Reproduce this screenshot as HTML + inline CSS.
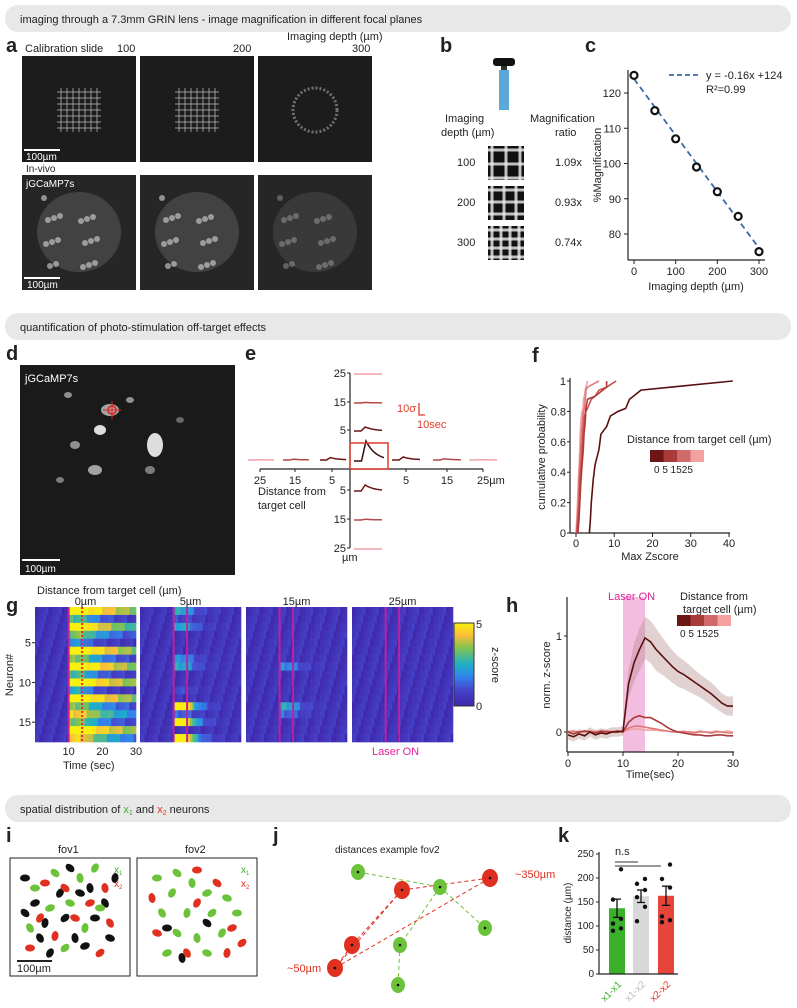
<!DOCTYPE html>
<html><head><meta charset="utf-8">
<style>
html,body{margin:0;padding:0;background:#fff;}
svg{display:block;font-family:"Liberation Sans",Arial,sans-serif;fill:#222;}
.lbl{font-weight:bold;font-size:20px;}
.t{font-size:11px;}
.s{font-size:10px;}
</style></head>
<body>
<svg id="root" width="797" height="1008" viewBox="0 0 797 1008">
<g><rect x="5" y="5" width="786" height="27" rx="13" fill="#e8e8e8"/><text x="20" y="23" class="t">imaging through a 7.3mm GRIN lens - image magnification in different focal planes</text></g>
<g><rect x="5" y="313" width="786" height="27" rx="13" fill="#e8e8e8"/><text x="20" y="331" class="t">quantification of photo-stimulation off-target effects</text></g>
<g><rect x="5" y="795" width="786" height="27" rx="13" fill="#e8e8e8"/><text x="20" y="813" class="t">spatial distribution of <tspan fill="#3bb02a">x</tspan><tspan fill="#3bb02a" font-size="7" dy="2">1</tspan><tspan dy="-2"> and </tspan><tspan fill="#e03020">x</tspan><tspan fill="#e03020" font-size="7" dy="2">2</tspan><tspan dy="-2"> neurons</tspan></text></g>

<g>
<text x="6" y="52" class="lbl">a</text>
<g id="aimgs"></g>
<text x="25" y="52" class="t">Calibration slide</text><text x="117" y="52" class="t">100</text>
<text x="233" y="52" class="t">200</text>
<text x="287" y="40" class="t">Imaging depth (µm)</text><text x="352" y="52" class="t">300</text>
<text x="26" y="160" class="s" fill="#fff">100µm</text>
<text x="26" y="172" class="s" fill="#222">In-vivo</text>
<text x="26" y="187" class="s" fill="#fff">jGCaMP7s</text>
</g>

<g>
<text x="440" y="52" class="lbl">b</text>
<rect x="493" y="58" width="22" height="8" rx="3" fill="#111"/>
<rect x="501" y="66" width="6" height="4" fill="#333"/>
<rect x="499" y="70" width="10" height="40" fill="#5aa7d8"/>
<text x="445" y="122" class="t">Imaging</text><text x="441" y="136" class="t">depth (µm)</text>
<text x="530" y="122" class="t">Magnification</text><text x="555" y="136" class="t">ratio</text>
<text x="457" y="166" class="t">100</text><text x="555" y="166" class="t">1.09x</text>
<text x="457" y="206" class="t">200</text><text x="555" y="206" class="t">0.93x</text>
<text x="457" y="246" class="t">300</text><text x="555" y="246" class="t">0.74x</text>
<g id="bimgs"></g>
</g>

<g id="pc">
<text x="585" y="52" class="lbl">c</text>
</g>

<g>
<text x="6" y="360" class="lbl">d</text>
<rect x="20" y="365" width="215" height="210" fill="#1a1a1a"/>
<g fill="#fff" opacity="0.85">
<ellipse cx="68" cy="395" rx="4" ry="3" opacity="0.6"/><ellipse cx="110" cy="410" rx="9" ry="6" opacity="0.7"/><ellipse cx="100" cy="430" rx="6" ry="5"/><ellipse cx="75" cy="445" rx="5" ry="4" opacity="0.6"/><ellipse cx="155" cy="445" rx="8" ry="12"/><ellipse cx="95" cy="470" rx="7" ry="5" opacity="0.7"/><ellipse cx="150" cy="470" rx="5" ry="4" opacity="0.5"/><ellipse cx="60" cy="480" rx="4" ry="3" opacity="0.5"/><ellipse cx="130" cy="400" rx="4" ry="3" opacity="0.6"/><ellipse cx="180" cy="420" rx="4" ry="3" opacity="0.4"/>
</g>
<circle cx="112" cy="410" r="4" fill="none" stroke="#e02020" stroke-width="1.5"/>
<line x1="103" y1="410" x2="121" y2="410" stroke="#e02020"/><line x1="112" y1="401" x2="112" y2="419" stroke="#e02020"/>
<text x="25" y="382" class="t" fill="#fff">jGCaMP7s</text>
<line x1="22" y1="560" x2="60" y2="560" stroke="#fff" stroke-width="2"/>
<text x="25" y="572" class="s" fill="#fff">100µm</text>
</g>

<g id="pe">
<text x="245" y="360" class="lbl">e</text>
</g>
<g id="pf">
<text x="532" y="362" class="lbl">f</text>
</g>
<g id="pg">
<text x="6" y="612" class="lbl">g</text>
<text x="37" y="594" class="t">Distance from target cell (µm)</text>
</g>
<g id="ph">
<text x="506" y="612" class="lbl">h</text>
</g>
<g id="pi">
<text x="6" y="842" class="lbl">i</text>
<text x="58" y="853" class="t">fov1</text><text x="185" y="853" class="t">fov2</text>
<rect x="10" y="858" width="120" height="118" fill="none" stroke="#222"/>
<rect x="137" y="858" width="120" height="118" fill="none" stroke="#222"/>
<text x="114" y="873" class="s" fill="#3bb02a">x<tspan font-size="6" dy="2">1</tspan></text>
<text x="114" y="887" class="s" fill="#e03020">x<tspan font-size="6" dy="2">2</tspan></text>
<text x="241" y="873" class="s" fill="#3bb02a">x<tspan font-size="6" dy="2">1</tspan></text>
<text x="241" y="887" class="s" fill="#e03020">x<tspan font-size="6" dy="2">2</tspan></text>
<line x1="17" y1="961" x2="52" y2="961" stroke="#222" stroke-width="2"/>
<text x="17" y="972" class="t">100µm</text>
</g>
<g id="pj">
<text x="273" y="842" class="lbl">j</text>
<text x="335" y="853" class="s">distances example fov2</text>
<text x="515" y="878" class="t" fill="#e03020">~350µm</text>
<text x="287" y="972" class="t" fill="#e03020">~50µm</text>
</g>
<g id="pk">
<text x="558" y="842" class="lbl">k</text>
</g>
</svg>
<script>
const NS='http://www.w3.org/2000/svg';
function mk(parent,tag,attrs,txt){const e=document.createElementNS(NS,tag);for(const k in attrs)e.setAttribute(k,attrs[k]);if(txt!==undefined)e.textContent=txt;parent.appendChild(e);return e;}
const G=id=>document.getElementById(id);

const aX=[22,140,258];
(function(){const g=G('aimgs');
aX.forEach((x,i)=>{
 const r1=mk(g,'rect',{x:x,y:56,width:114,height:106,fill:'#1c1c1c'});
 
 
 const cx=x+57,cy=110;
 if(i<2){for(let k=-3;k<=3;k++){mk(g,'line',{x1:cx+k*6,y1:cy-22,x2:cx+k*6,y2:cy+22,stroke:'#ccc','stroke-width':1.2,opacity:0.55});mk(g,'line',{x1:cx-22,y1:cy+k*6,x2:cx+22,y2:cy+k*6,stroke:'#ccc','stroke-width':1.2,opacity:0.55});}}
 else{mk(g,'circle',{cx:cx,cy:cy,r:22,fill:'none',stroke:'#aaa','stroke-width':3,'stroke-dasharray':'2 2',opacity:0.6});}
 const r2=mk(g,'rect',{x:x,y:175,width:114,height:115,fill:'#262626'});
 
 
 mk(g,'ellipse',{cx:x+57,cy:232,rx:42,ry:40,fill:'#666',opacity:i==2?0.3:0.45});
 for(let k=0;k<18;k++){mk(g,'circle',{cx:x+22+((k*37)%72),cy:198+((k*23)%70),r:3,fill:'#ccc',opacity:i==2?0.35:0.65});}
});
mk(g,'line',{x1:24,y1:150,x2:60,y2:150,stroke:'#fff','stroke-width':2});
mk(g,'line',{x1:24,y1:278,x2:60,y2:278,stroke:'#fff','stroke-width':2});
mk(g,'text',{x:27,y:288,class:'s',fill:'#fff'},'100µm');
})();
const bY=[146,186,226];
(function(){const g=G('bimgs');
bY.forEach((y,i)=>{const r=mk(g,'rect',{x:488,y:y,width:36,height:34,fill:'#111'});
 
 
 const sp=[14,12,9][i];
 for(let k=0;k*sp<36;k++){mk(g,'line',{x1:488+4+k*sp,y1:y,x2:488+4+k*sp,y2:y+34,stroke:'#eee','stroke-width':3,opacity:0.8});mk(g,'line',{x1:488,y1:y+4+k*sp,x2:524,y2:y+4+k*sp,stroke:'#eee','stroke-width':3,opacity:0.8});}
});})();

const cDepth=[0,50,100,150,200,250,300];
const cMag=[125,115,107,99,92,85,75];
const cYTicks=[80,90,100,110,120];
const cXTicks=[0,100,200,300];
(function(){const g=G('pc');
 const sx=v=>634+v*(759-634)/300, sy=v=>234-(v-80)*(234-93)/40;
 mk(g,'line',{x1:628,y1:70,x2:628,y2:260,stroke:'#222','stroke-width':1.2});
 mk(g,'line',{x1:628,y1:260,x2:765,y2:260,stroke:'#222','stroke-width':1.2});
 cYTicks.forEach(v=>{mk(g,'line',{x1:624,y1:sy(v),x2:628,y2:sy(v),stroke:'#222'});mk(g,'text',{x:621,y:sy(v)+4,class:'t','text-anchor':'end'},v);});
 cXTicks.forEach(v=>{mk(g,'line',{x1:sx(v),y1:260,x2:sx(v),y2:264,stroke:'#222'});mk(g,'text',{x:sx(v),y:275,class:'t','text-anchor':'middle'},v);});
 mk(g,'text',{x:696,y:290,class:'t','text-anchor':'middle'},'Imaging depth (µm)');
 mk(g,'text',{x:601,y:165,class:'t','text-anchor':'middle',transform:'rotate(-90 601 165)'},'%Magnification');
 const fit=v=>124-0.16*v;
 const fl=mk(g,'line',{x1:sx(0),y1:sy(fit(0)),x2:sx(310),y2:sy(fit(310)),stroke:'#3a6aa8','stroke-width':1.8,'stroke-dasharray':'6 4'});
 
 
 cDepth.forEach((d,i)=>{const c=mk(g,'circle',{cx:sx(d),cy:sy(cMag[i]),r:3.5,fill:'#fff',stroke:'#111','stroke-width':2.2});
  
  });
 mk(g,'line',{x1:669,y1:75,x2:700,y2:75,stroke:'#3a6aa8','stroke-width':1.8,'stroke-dasharray':'5 3'});
 mk(g,'text',{x:706,y:79,class:'t'},'y = -0.16x +124');
 mk(g,'text',{x:706,y:93,class:'t'},'R²=0.99');
})();

const eDist=[5,15,25];
const ePeakV=[2,0.3,0];
const ePeakD=[3,0.4,0];
const ePeakH=[1.5,0.6,0.2];
const ePeakL=[1.2,0.4,0.1];
const eCenterPeak=10;
(function(){const g=G('pe');
 const ox=350, oy=469;
 const up=[430,402,373], dn=[490,519,548];
 const hx=[406,447,483], hxl=[332,295,260];
 mk(g,'line',{x1:ox,y1:373,x2:ox,y2:548,stroke:'#222','stroke-width':1.2});
 mk(g,'line',{x1:260,y1:oy,x2:483,y2:oy,stroke:'#222','stroke-width':1.2});
 eDist.forEach((d,i)=>{
  mk(g,'text',{x:ox-4,y:up[i]+4,class:'t','text-anchor':'end'},d);mk(g,'line',{x1:ox-3,y1:up[i],x2:ox,y2:up[i],stroke:'#222'});
  mk(g,'text',{x:ox-4,y:dn[i]+4,class:'t','text-anchor':'end'},d);mk(g,'line',{x1:ox-3,y1:dn[i],x2:ox,y2:dn[i],stroke:'#222'});
  mk(g,'text',{x:hxl[i],y:oy+15,class:'t','text-anchor':'middle'},d);mk(g,'line',{x1:hxl[i],y1:oy,x2:hxl[i],y2:oy+3,stroke:'#222'});
  mk(g,'text',{x:hx[i]-(i==2?6:0),y:oy+15,class:'t','text-anchor':i==2?'start':'middle'},i==2?'25µm':d);mk(g,'line',{x1:hx[i],y1:oy,x2:hx[i],y2:oy+3,stroke:'#222'});
 });
 mk(g,'text',{x:ox-8,y:561,class:'t'},'µm');
 mk(g,'text',{x:258,y:495,class:'t'},'Distance from');
 mk(g,'text',{x:258,y:509,class:'t'},'target cell');
 const cols=['#6b1515','#b04848','#f0a0a8'];
 function trace(x0,y0,w,pk,col,name){let d='';for(let k=0;k<=20;k++){const t=k/20;let v=t<0.25?0:t<0.4?(t-0.25)/0.15:Math.exp(-(t-0.4)*3);d+=(k?'L':'M')+(x0+t*w).toFixed(1)+','+(y0-v*pk*2).toFixed(1);}
  const p=mk(g,'path',{d:d,fill:'none',stroke:col,'stroke-width':1.5});
  
  }
 eDist.forEach((d,i)=>{
  trace(354,up[i]+1,28,ePeakV[i],cols[i],'trace-up-'+d);
  trace(354,dn[i]+1,28,ePeakD[i],cols[i],'trace-down-'+d);
  trace(hx[i]-14,oy-9,28,ePeakH[i],cols[i],'trace-right-'+d);
  trace(hxl[i]-12,oy-9,26,ePeakL[i],cols[i],'trace-left-'+d);
 });
 trace(354,oy-8,30,eCenterPeak,'#3a0c0c','trace-center');
 const b=mk(g,'rect',{x:ox,y:443,width:38,height:26,fill:'none',stroke:'#e03a2a','stroke-width':1.5});
 
 
 mk(g,'text',{x:397,y:412,class:'t',fill:'#e03a2a'},'10σ');
 mk(g,'path',{d:'M419,403 L419,415 L425,415',fill:'none',stroke:'#e03a2a','stroke-width':1.3});
 mk(g,'text',{x:417,y:428,class:'t',fill:'#e03a2a'},'10sec');
})();

const fProbs=[0,0.1,0.2,0.35,0.45,0.55,0.65,0.7,0.77,0.8,0.82,0.88,0.9,0.94,0.96,1];
const fX0=[3.5,3.8,4,4.5,5,6,6.5,8,9,11,13,14,15,17,25,41];
const fX5a=[0.5,0.8,1,1.3,1.6,1.9,2.1,2.3,2.5,2.5,2.6,3,5,7,8,8];
const fX5b=[0.2,0.5,0.8,1,1.3,1.6,1.8,2,2.2,2.6,3,4,5,6,8,10.5];
const fX15=[0.1,0.4,0.6,0.8,1,1.2,1.4,1.6,1.8,2,2.2,2.4,2.5,2.6,3,6];
const fX25=[0,0.2,0.4,0.6,0.8,1,1.1,1.2,1.4,1.6,1.8,2,2.2,2.4,2.6,3];
const fXTicks=[0,10,20,30,40];
const fYTicks=[0,0.2,0.4,0.6,0.8,1];
(function(){const g=G('pf');
 const sx=v=>576+v*(729-576)/40, sy=v=>533-v*(533-381);
 mk(g,'line',{x1:570,y1:378,x2:570,y2:533,stroke:'#222','stroke-width':1.2});
 mk(g,'line',{x1:570,y1:533,x2:730,y2:533,stroke:'#222','stroke-width':1.2});
 fYTicks.forEach(v=>{mk(g,'line',{x1:567,y1:sy(v),x2:570,y2:sy(v),stroke:'#222'});mk(g,'text',{x:566,y:sy(v)+4,class:'t','text-anchor':'end'},v);});
 fXTicks.forEach(v=>{mk(g,'line',{x1:sx(v),y1:533,x2:sx(v),y2:537,stroke:'#222'});mk(g,'text',{x:sx(v),y:547,class:'t','text-anchor':'middle'},v);});
 mk(g,'text',{x:650,y:560,class:'t','text-anchor':'middle'},'Max Zscore');
 mk(g,'text',{x:545,y:457,class:'t','text-anchor':'middle',transform:'rotate(-90 545 457)'},'cumulative probability');
 const series=[[fX25,'#f4a0a0','cdf-25um'],[fX15,'#e07878','cdf-15um'],[fX5b,'#c85050','cdf-5um-b'],[fX5a,'#b03a3a','cdf-5um'],[fX0,'#5a1010','cdf-0um']];
 series.forEach(s=>{const d=s[0].map((x,i)=>(i?'L':'M')+sx(x).toFixed(1)+','+sy(fProbs[i]).toFixed(1)).join('');
  const p=mk(g,'path',{d:d,fill:'none',stroke:s[1],'stroke-width':1.6});
  
  });
 mk(g,'text',{x:627,y:443,class:'t'},'Distance from target cell (µm)');
 const lc=['#6b1515','#a83a3a','#d06a6a','#f4a0a0'];
 lc.forEach((c,i)=>mk(g,'rect',{x:650+i*13.5,y:450,width:13.5,height:12,fill:c}));
 mk(g,'text',{x:654,y:473,class:'s'},'0  5 1525');
})();

const gAmp0=[5,2.5,5,3,1.5,5,3,5,2.5,5,2,5,3,4,3,5,4];
const gDec0=[30,6,20,10,4,30,8,30,6,30,4,30,10,15,8,30,12];
const gAmp5=[2,0.5,2,0,0,0,1.5,2,0,0,0.5,0,5,1,5,0,5];
const gAmp15=[0,0,0,0,0,0,0,1.5,0,0,0,0,2,1,0,0,0];
const gAmp25=[0,0,0,0,0,0,0,0,0,0,0,0,0,0,0,0,0];
const gTitles=['0µm','5µm','15µm','25µm'];
const gXTicks=[10,20,30];
const gYTicks=[5,10,15];
function parula(v){v=Math.max(0,Math.min(1,v));
 const st=[[0,[62,38,168]],[0.2,[70,70,205]],[0.35,[50,130,235]],[0.5,[30,175,200]],[0.7,[130,195,80]],[0.85,[250,190,60]],[1,[249,240,14]]];
 for(let i=1;i<st.length;i++){if(v<=st[i][0]){const a=st[i-1],b=st[i],t=(v-a[0])/(b[0]-a[0]);return 'rgb('+a[1].map((c,k)=>Math.round(c+(b[1][k]-c)*t)).join(',')+')';}}return 'rgb(249,240,14)';}
(function(){const g=G('pg');
 const px=[35,140,246,352], W=101, top=607, bot=742, nR=17, nC=45;
 const amps=[gAmp0,gAmp5,gAmp15,gAmp25];
 const decs=[gDec0,gDec0.map(()=>3),gDec0.map(()=>3),gDec0.map(()=>3)];
 const rh=(bot-top)/nR, cw=W/nC;
 const sx=(p,t)=>px[p]+t/30*W;
 px.forEach((x0,p)=>{
  const pg=mk(g,'g',{});
  
  
  for(let r=0;r<nR;r++)for(let c=0;c<nC;c++){
   const t=(c+0.5)*30/nC; const a=amps[p][r];
   let v=((r*7+c*13)%6)/6*0.8+0.1;
   if(t>=10&&t<14)v+=a;else if(t>=14)v+=a*Math.exp(-(t-14)/decs[p][r]);
   mk(pg,'rect',{x:(x0+c*cw).toFixed(2),y:(top+r*rh).toFixed(2),width:(cw+0.3).toFixed(2),height:(rh+0.3).toFixed(2),fill:parula(v/5)});
  }
  mk(g,'line',{x1:sx(p,10),y1:top,x2:sx(p,10),y2:bot,stroke:'#c020a0','stroke-width':2});
  mk(g,'line',{x1:sx(p,14),y1:top,x2:sx(p,14),y2:bot,stroke:p==0?'#e03030':'#c020a0','stroke-width':2,'stroke-dasharray':p==0?'2 2':'none'});
  mk(g,'text',{x:x0+W/2,y:605,class:'t','text-anchor':'middle'},gTitles[p]);
 });
 gYTicks.forEach(n=>{const y=top+(n-0.5)*rh;mk(g,'line',{x1:32,y1:y,x2:35,y2:y,stroke:'#222'});mk(g,'text',{x:31,y:y+4,class:'t','text-anchor':'end'},n);});
 gXTicks.forEach(t=>{mk(g,'text',{x:sx(0,t),y:755,class:'t','text-anchor':'middle'},t);});
 mk(g,'text',{x:13,y:675,class:'t','text-anchor':'middle',transform:'rotate(-90 13 675)'},'Neuron#');
 mk(g,'text',{x:63,y:769,class:'t'},'Time (sec)');
 mk(g,'text',{x:372,y:755,class:'t',fill:'#e0209a'},'Laser ON');
 const defs=mk(G('root'),'defs',{});const lg=mk(defs,'linearGradient',{id:'cb',x1:0,y1:1,x2:0,y2:0});
 [0,0.2,0.35,0.5,0.7,0.85,1].forEach(o=>mk(lg,'stop',{offset:o,'stop-color':parula(o)}));
 const cb=mk(g,'rect',{x:454,y:623,width:20,height:83,fill:'url(#cb)',stroke:'#333'});
 
 
 mk(g,'text',{x:476,y:628,class:'t'},'5');mk(g,'text',{x:476,y:710,class:'t'},'0');
 mk(g,'text',{x:492,y:665,class:'t','text-anchor':'middle',transform:'rotate(90 492 665)'},'z-score');
})();

const hTime=[0,1,2,3,4,5,6,7,8,9,10,11,12,13,14,15,16,17,18,19,20,21,22,23,24,25,26,27,28,29,30];
const h0=[-0.03,-0.05,-0.02,-0.04,0,-0.03,-0.01,-0.02,0,0,0.01,0.5,0.72,0.86,0.98,0.94,0.86,0.8,0.74,0.68,0.63,0.6,0.56,0.52,0.48,0.44,0.4,0.35,0.3,0.27,0.27];
const h0sem=[0.05,0.05,0.05,0.05,0.05,0.05,0.05,0.05,0.05,0.05,0.05,0.15,0.2,0.22,0.22,0.22,0.22,0.2,0.18,0.17,0.16,0.15,0.14,0.13,0.12,0.12,0.12,0.11,0.1,0.1,0.1];
const h5=[0,-0.02,0,0.01,0,-0.01,0.01,0,0,0.01,0,0.1,0.15,0.17,0.15,0.15,0.12,0.09,0.05,0.02,0,-0.01,-0.02,-0.03,-0.03,-0.04,-0.04,-0.03,-0.03,-0.04,-0.04];
const h15=[0,0.01,0,0,0.01,0,0,0.01,0,0,0.01,0.04,0.06,0.06,0.05,0.04,0.03,0.02,0.01,0,0,0,0,-0.01,0,0,-0.01,0,0,-0.01,-0.01];
const h25=[0.01,0,0,0.01,0,0.01,0,0,0.01,0,0,0.02,0.03,0.03,0.02,0.02,0.02,0.01,0.01,0,0,0.01,0,0,0.01,0,0,0.01,0,0.01,0];
const hXTicks=[0,10,20,30];
const hYTicks=[0,1];
(function(){const g=G('ph');
 const sx=t=>568+t*(733-568)/30, sy=v=>732-v*96;
 const sh=mk(g,'rect',{x:sx(10),y:597,width:sx(14)-sx(10),height:155,fill:'#f3bde0'});
 
 
 let up=hTime.map((t,i)=>sx(t).toFixed(1)+','+sy(h0[i]+h0sem[i]).toFixed(1));
 let dn=hTime.map((t,i)=>sx(t).toFixed(1)+','+sy(h0[i]-h0sem[i]).toFixed(1)).reverse();
 mk(g,'polygon',{points:up.concat(dn).join(' '),fill:'#b58c8c',opacity:0.4});
 [[h25,'#f4a0a0','trace-25um'],[h15,'#e07878','trace-15um'],[h5,'#a83a3a','trace-5um'],[h0,'#5a1010','trace-0um']].forEach(s=>{
  const p=mk(g,'polyline',{points:hTime.map((t,i)=>sx(t).toFixed(1)+','+sy(s[0][i]).toFixed(1)).join(' '),fill:'none',stroke:s[1],'stroke-width':1.6});
  
  });
 mk(g,'line',{x1:567,y1:597,x2:567,y2:752,stroke:'#222','stroke-width':1.2});
 mk(g,'line',{x1:567,y1:752,x2:734,y2:752,stroke:'#222','stroke-width':1.2});
 hYTicks.forEach(v=>{mk(g,'line',{x1:564,y1:sy(v),x2:567,y2:sy(v),stroke:'#222'});mk(g,'text',{x:562,y:sy(v)+4,class:'t','text-anchor':'end'},v);});
 hXTicks.forEach(t=>{mk(g,'line',{x1:sx(t),y1:752,x2:sx(t),y2:756,stroke:'#222'});mk(g,'text',{x:sx(t),y:767,class:'t','text-anchor':'middle'},t);});
 mk(g,'text',{x:650,y:778,class:'t','text-anchor':'middle'},'Time(sec)');
 mk(g,'text',{x:550,y:675,class:'t','text-anchor':'middle',transform:'rotate(-90 550 675)'},'norm. z-score');
 mk(g,'text',{x:608,y:600,class:'t',fill:'#e0209a'},'Laser ON');
 mk(g,'text',{x:680,y:600,class:'t'},'Distance from');
 mk(g,'text',{x:683,y:613,class:'t'},'target cell (µm)');
 ['#6b1515','#a83a3a','#d06a6a','#f4a0a0'].forEach((c,i)=>mk(g,'rect',{x:677+i*13.5,y:615,width:13.5,height:11,fill:c}));
 mk(g,'text',{x:680,y:637,class:'s'},'0  5 1525');
})();

const iFov1G=[[25,30],[45,15],[70,20],[85,10],[40,50],[60,45],[20,70],[75,70],[55,90],[90,50]];
const iFov1R=[[35,25],[55,30],[95,30],[30,60],[80,45],[65,60],[100,65],[45,78],[90,95],[20,90]];
const iFov1K=[[15,20],[60,10],[80,30],[50,35],[25,45],[70,35],[95,45],[35,65],[55,60],[85,60],[15,55],[65,80],[40,95],[75,88],[100,80],[30,80],[105,20]];
const iFov2G=[[20,20],[40,15],[55,25],[35,35],[70,35],[90,40],[25,55],[50,55],[75,55],[100,55],[40,75],[60,80],[85,75],[30,95],[70,95]];
const iFov2R=[[60,12],[80,25],[15,40],[60,45],[95,70],[20,75],[50,95],[90,95],[105,85]];
const iFov2K=[[30,70],[70,65],[45,100]];
(function(){const g=G('pi');
 function blobs(arr,x0,col,nm){arr.forEach((p,i)=>{const e=mk(g,'ellipse',{cx:x0+p[0],cy:858+p[1],rx:5,ry:3.5,fill:col,transform:'rotate('+((i*40)%180)+' '+(x0+p[0])+' '+(858+p[1])+')'});
  
  });}
 blobs(iFov1K,10,'#111','fov1-other');blobs(iFov1G,10,'#6cc23a','fov1-x1');blobs(iFov1R,10,'#e03020','fov1-x2');
 blobs(iFov2K,137,'#111','fov2-other');blobs(iFov2G,137,'#6cc23a','fov2-x1');blobs(iFov2R,137,'#e03020','fov2-x2');
})();

const jGreen=[[358,872],[440,887],[400,945],[485,928],[398,985]];
const jRed=[[402,890],[490,878],[352,945],[335,968]];
const jGreenEdges=[[0,1],[1,3],[1,2],[2,4]];
const jRedEdges=[[0,1],[0,2],[0,3],[2,3],[1,3]];
(function(){const g=G('pj');
 jGreenEdges.forEach(e=>mk(g,'line',{x1:jGreen[e[0]][0],y1:jGreen[e[0]][1],x2:jGreen[e[1]][0],y2:jGreen[e[1]][1],stroke:'#6cc23a','stroke-dasharray':'4 3'}));
 jRedEdges.forEach(e=>mk(g,'line',{x1:jRed[e[0]][0],y1:jRed[e[0]][1],x2:jRed[e[1]][0],y2:jRed[e[1]][1],stroke:'#e03020','stroke-dasharray':'4 3'}));
 jGreen.forEach(p=>{const e=mk(g,'ellipse',{cx:p[0],cy:p[1],rx:7,ry:8,fill:'#6cc23a'});
  
  
  mk(g,'circle',{cx:p[0],cy:p[1],r:1.3,fill:'#111'});});
 jRed.forEach(p=>{const e=mk(g,'ellipse',{cx:p[0],cy:p[1],rx:8,ry:9,fill:'#e03020'});
  
  
  mk(g,'circle',{cx:p[0],cy:p[1],r:1.3,fill:'#111'});});
})();

const kCats=['x1-x1','x1-x2','x2-x2'];
const kMeans=[137,162,163];
const kSem=[19,13,20];
const kPts1=[218,155,115,105,95,90];
const kPts2=[198,188,175,160,140,110];
const kPts3=[228,198,180,120,112,108];
const kYTicks=[0,50,100,150,200,250];
(function(){const g=G('pk');
 const sy=v=>974-v*(974-854)/250, cx=[617,641,666], cols=['#3bb02a','#d8d8d8','#e8453a'], lcol=['#3bb02a','#bbb','#e03020'];
 const pts=[kPts1,kPts2,kPts3];
 kCats.forEach((c,i)=>{
  const b=mk(g,'rect',{x:cx[i]-8,y:sy(kMeans[i]),width:16,height:974-sy(kMeans[i]),fill:cols[i]});
  
  
  mk(g,'line',{x1:cx[i],y1:sy(kMeans[i]-kSem[i]),x2:cx[i],y2:sy(kMeans[i]+kSem[i]),stroke:'#111','stroke-width':1.3});
  [kMeans[i]-kSem[i],kMeans[i]+kSem[i]].forEach(v=>mk(g,'line',{x1:cx[i]-4,y1:sy(v),x2:cx[i]+4,y2:sy(v),stroke:'#111','stroke-width':1.3}));
  pts[i].forEach((v,j)=>mk(g,'circle',{cx:cx[i]+((j%2)?-4:4),cy:sy(v),r:2.2,fill:'#111'}));
  mk(g,'text',{x:cx[i]+5,y:985,class:'s',fill:lcol[i],'text-anchor':'end',transform:'rotate(-45 '+(cx[i]+5)+' 985)'},c);
 });
 mk(g,'line',{x1:599,y1:852,x2:599,y2:974,stroke:'#222','stroke-width':1.2});
 mk(g,'line',{x1:599,y1:974,x2:678,y2:974,stroke:'#222','stroke-width':1.2});
 kYTicks.forEach(v=>{mk(g,'line',{x1:596,y1:sy(v),x2:599,y2:sy(v),stroke:'#222'});mk(g,'text',{x:594,y:sy(v)+3,class:'s','text-anchor':'end','font-size':'8'},v);});
 mk(g,'text',{x:571,y:913,class:'s','text-anchor':'middle',transform:'rotate(-90 571 913)'},'distance (µm)');
 mk(g,'line',{x1:615,y1:862,x2:638,y2:862,stroke:'#333'});
 mk(g,'line',{x1:615,y1:866,x2:661,y2:866,stroke:'#333'});
 mk(g,'text',{x:615,y:855,class:'t'},'n.s');
})();
</script>
</body></html>
